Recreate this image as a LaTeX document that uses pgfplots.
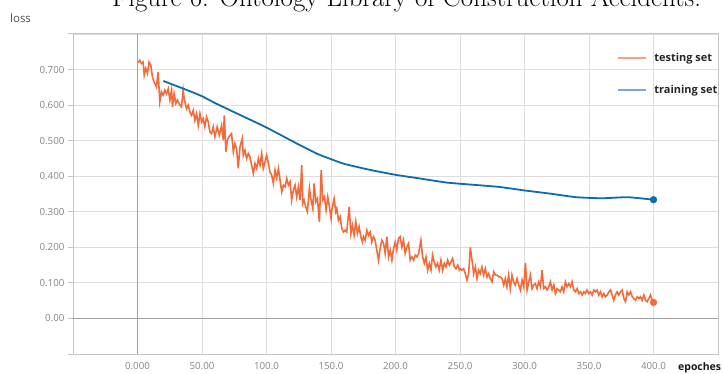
\documentclass[border=0pt]{standalone}
\usepackage{fontspec}
\usepackage{pgfplots}
\usepackage{pgfplotstable}
\pgfplotsset{compat=1.18}
\newfontfamily\osans{Open Sans}
\definecolor{orangeline}{HTML}{F26B3A}
\definecolor{blueline}{HTML}{0F6CAB}
\definecolor{legorange}{HTML}{F4A384}
\definecolor{legblue}{HTML}{7FA3D6}
\definecolor{gridgray}{HTML}{DEDEDE}
\definecolor{framegray}{HTML}{C4C4C4}
\definecolor{zerogray}{HTML}{A0A0A0}
\definecolor{ticklab}{HTML}{858585}

\pgfplotstableread{
epoch loss
0.5 0.719
1.8 0.726
3.1 0.717
4.4 0.721
5.2 0.684
6.4 0.703
7.7 0.689
9.0 0.721
10.3 0.712
11.6 0.679
12.9 0.665
14.7 0.651
16.0 0.693
17.3 0.609
18.6 0.637
19.9 0.628
21.2 0.642
22.5 0.632
23.8 0.646
25.1 0.614
26.4 0.642
27.1 0.595
28.4 0.632
29.7 0.604
31.0 0.614
32.8 0.600
34.1 0.595
35.4 0.642
36.2 0.618
38.0 0.590
39.3 0.600
40.6 0.581
41.9 0.571
43.2 0.585
44.5 0.557
45.8 0.576
47.1 0.543
48.4 0.576
49.7 0.553
50.9 0.562
52.2 0.539
53.5 0.567
54.8 0.553
56.1 0.525
57.4 0.520
58.7 0.539
60.0 0.511
61.8 0.539
63.4 0.515
65.2 0.543
66.5 0.501
67.3 0.571
68.5 0.469
69.6 0.501
70.9 0.511
72.9 0.520
74.3 0.468
75.5 0.492
76.8 0.478
78.1 0.422
79.4 0.482
81.2 0.506
82.0 0.459
83.3 0.473
84.6 0.450
85.9 0.464
87.2 0.454
88.5 0.431
89.8 0.408
91.1 0.436
92.4 0.422
93.7 0.450
95.0 0.431
96.3 0.464
97.5 0.422
98.8 0.440
100.1 0.459
101.4 0.436
102.7 0.412
104.0 0.403
105.3 0.380
106.6 0.417
107.9 0.394
109.2 0.422
110.5 0.389
111.8 0.356
113.1 0.375
114.4 0.370
115.7 0.394
117.0 0.375
118.3 0.384
119.5 0.333
120.8 0.361
122.1 0.375
123.4 0.342
124.7 0.370
126.0 0.333
127.3 0.431
128.1 0.323
129.1 0.333
130.4 0.314
131.7 0.300
133.3 0.366
134.3 0.337
135.9 0.309
136.9 0.380
138.2 0.328
139.5 0.337
141.0 0.272
142.4 0.417
143.6 0.333
144.9 0.342
146.2 0.305
147.5 0.342
148.8 0.314
150.1 0.281
150.6 0.304
152.4 0.337
153.7 0.300
154.5 0.309
155.8 0.276
157.1 0.286
158.4 0.253
159.7 0.243
160.9 0.248
162.2 0.243
164.1 0.314
165.4 0.239
166.6 0.262
167.9 0.234
169.2 0.272
170.5 0.239
171.8 0.258
173.1 0.230
174.4 0.215
175.2 0.230
176.5 0.220
177.8 0.248
179.1 0.234
180.4 0.243
181.6 0.215
182.9 0.230
184.2 0.220
185.5 0.192
186.8 0.164
188.1 0.197
189.4 0.220
190.7 0.211
192.0 0.183
193.3 0.230
194.6 0.173
195.9 0.192
197.2 0.164
198.5 0.197
199.8 0.215
201.0 0.192
202.3 0.225
203.6 0.230
204.9 0.201
206.2 0.220
207.5 0.183
208.8 0.201
210.1 0.211
211.4 0.164
212.7 0.173
214.0 0.164
215.3 0.178
216.6 0.173
217.9 0.183
219.7 0.220
221.0 0.173
222.3 0.155
223.6 0.173
224.9 0.136
226.2 0.155
227.5 0.136
228.7 0.178
230.0 0.159
231.3 0.145
232.6 0.155
233.9 0.136
235.2 0.164
236.5 0.136
237.8 0.155
239.1 0.145
240.4 0.164
241.7 0.150
243.0 0.159
244.3 0.169
245.6 0.145
246.9 0.140
248.2 0.150
249.5 0.136
250.2 0.140
251.5 0.136
252.8 0.140
254.1 0.126
255.4 0.108
256.7 0.126
258.0 0.200
259.3 0.164
260.6 0.126
261.9 0.145
263.2 0.112
264.4 0.136
265.7 0.126
267.0 0.145
268.3 0.122
269.6 0.140
270.9 0.117
272.2 0.126
273.5 0.112
274.8 0.103
276.1 0.131
277.4 0.122
278.7 0.122
280.0 0.117
281.3 0.117
282.6 0.112
283.9 0.094
285.1 0.112
286.4 0.089
287.7 0.122
289.0 0.084
290.3 0.122
291.6 0.103
292.9 0.094
294.2 0.112
295.5 0.094
296.8 0.080
298.1 0.108
299.4 0.089
300.7 0.156
302.0 0.080
303.3 0.103
304.6 0.122
305.8 0.084
307.1 0.094
308.4 0.098
309.7 0.084
311.0 0.103
312.3 0.089
313.6 0.136
314.9 0.084
316.2 0.089
317.5 0.080
318.8 0.089
320.1 0.103
321.4 0.080
322.7 0.094
324.0 0.070
325.3 0.084
326.5 0.080
327.8 0.075
329.1 0.089
330.4 0.075
331.7 0.103
333.0 0.089
334.3 0.098
335.6 0.089
336.9 0.103
338.2 0.080
339.5 0.075
340.8 0.084
342.1 0.070
343.4 0.075
344.7 0.066
346.0 0.075
347.2 0.070
348.5 0.080
349.8 0.070
351.1 0.075
352.4 0.066
353.7 0.080
355.0 0.075
356.3 0.080
357.6 0.066
358.9 0.075
360.2 0.061
361.5 0.070
362.8 0.061
364.1 0.066
365.4 0.075
366.7 0.080
367.9 0.066
369.2 0.051
370.5 0.066
371.8 0.075
373.1 0.066
374.4 0.075
375.7 0.080
377.0 0.056
378.3 0.047
379.6 0.075
380.9 0.066
382.2 0.075
383.5 0.061
384.8 0.056
386.1 0.051
387.4 0.061
388.7 0.056
389.9 0.061
391.2 0.051
392.5 0.066
393.8 0.051
395.1 0.047
396.4 0.056
397.7 0.066
399.0 0.051
400.0 0.045
}\testing

\pgfplotstableread{
epoch loss
20 0.668
40 0.640
50 0.625
60 0.606
75 0.580
100 0.537
125 0.489
140 0.462
150 0.448
160 0.435
180 0.418
200 0.404
220 0.393
240 0.382
260 0.376
280 0.370
300 0.360
320 0.351
340 0.341
360 0.338
380 0.341
400 0.334
}\training

\begin{document}
\begin{tikzpicture}[x=1bp,y=1bp]
\useasboundingbox (-73,-19) rectangle (650,354);
\node[anchor=base west, inner sep=0pt, font=\fontsize{27}{32}\selectfont] at (39,347.5) {Figure 6: Ontology Library of Construction Accidents.};
\begin{axis}[
  at={(0,0)}, anchor=south west,
  scale only axis, width=645bp, height=320bp,
  xmin=-50, xmax=450, ymin=-0.1, ymax=0.8,
  xtick={-50,0,50,100,150,200,250,300,350,400,450},
  xticklabels={,0.000,50.00,100.0,150.0,200.0,250.0,300.0,350.0,400.0,},
  ytick={-0.1,0,0.1,0.2,0.3,0.4,0.5,0.6,0.7,0.8},
  yticklabels={,0.00,0.100,0.200,0.300,0.400,0.500,0.600,0.700,},
  grid=major,
  grid style={gridgray, line width=0.9bp},
  axis line style={framegray, line width=1bp},
  tick pos=left,
  tick align=outside,
  major tick length=5bp,
  xtick style={draw=none},
  ytick style={framegray, line width=1bp},
  tick label style={font=\osans\fontsize{9.8}{11}\selectfont, text=ticklab},
  legend image code/.code={\draw[#1] (0bp,0bp) -- (28bp,0bp);},
  legend cell align=left,
  legend style={at={(rel axis cs:0.8434,0.947)}, anchor=north west,
    draw=none, fill=none, inner sep=0pt,
    font=\osans\bfseries\fontsize{11}{13}\selectfont, text=black!85,
    row sep=18bp,
    /tikz/every odd column/.append style={column sep=5bp}},
]
\addlegendimage{legorange, line width=2.2bp}
\addlegendentry{testing set}
\addlegendimage{legblue, line width=2.2bp}
\addlegendentry{training set}

\draw[zerogray, line width=1.6bp] (axis cs:0,-0.1) -- (axis cs:0,0.8);
\draw[zerogray, line width=1.8bp] (axis cs:-50,0) -- (axis cs:450,0);

\addplot[orangeline, line width=1.6bp, forget plot] table[x=epoch, y=loss] {\testing};
\addplot[blueline, line width=1.8bp, smooth, tension=0.3, forget plot] table[x=epoch, y=loss] {\training};
\addplot[only marks, mark=*, mark size=3.4bp, orangeline, forget plot] coordinates {(400,0.045)};
\addplot[only marks, mark=*, mark size=3.4bp, blueline, forget plot] coordinates {(400,0.334)};
\end{axis}
\node[anchor=west, inner sep=0pt, font=\osans\fontsize{11.5}{13}\selectfont, text=black!70] at (-63,336) {loss};
\node[anchor=west, inner sep=0pt, font=\osans\bfseries\fontsize{10.5}{12}\selectfont, text=black!90] at (605,-14) {epoches};
\end{tikzpicture}
\end{document}
